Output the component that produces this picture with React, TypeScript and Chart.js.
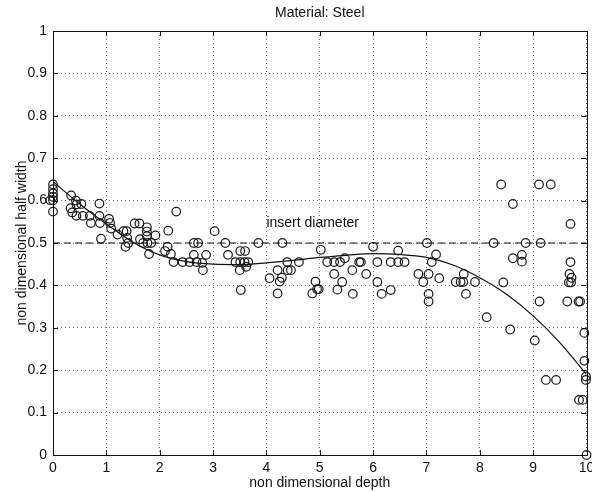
import React, { useEffect, useRef } from 'react';
import { Chart, registerables } from 'chart.js';

Chart.register(...registerables);

const chartTitle = 'Material: Steel';
const xAxisTitle = 'non dimensional depth';
const yAxisTitle = 'non dimensional half width';
const referenceLabel = 'insert diameter';

const xTickValues = [0, 1, 2, 3, 4, 5, 6, 7, 8, 9, 10];
const yTickValues = [0, 0.1, 0.2, 0.3, 0.4, 0.5, 0.6, 0.7, 0.8, 0.9, 1];

// polynomial fit curve
const fitX = [0, 0.5, 1, 1.5, 2, 2.5, 3, 3.5, 4, 4.5, 5, 5.5, 6, 6.5, 7, 7.5, 8, 8.5, 9, 9.5, 10];
const fitY = [0.645, 0.592, 0.545, 0.502, 0.472, 0.456, 0.45, 0.449, 0.453, 0.459, 0.466, 0.471, 0.475, 0.473, 0.466, 0.448, 0.418, 0.379, 0.328, 0.265, 0.19];

// insert diameter reference line
const refX = [0, 10];
const refY = [0.5, 0.5];
const refLabelPos = [4.0, 0.537];

// measured points [depth, half width]
const measured: [number, number][] = [
  [-0.05, 0.601], [0, 0.638], [0, 0.627], [0, 0.617], [0, 0.609], [0, 0.601], [0, 0.574],
  [0.34, 0.612], [0.43, 0.6], [0.44, 0.591], [0.53, 0.592], [0.33, 0.582], [0.36, 0.572],
  [0.44, 0.564], [0.56, 0.564], [0.69, 0.564], [0.71, 0.547], [0.87, 0.593], [0.87, 0.564],
  [0.88, 0.547], [0.9, 0.51], [1.05, 0.557], [1.07, 0.547], [1.09, 0.534], [1.21, 0.52],
  [1.32, 0.528], [1.38, 0.528], [1.36, 0.491], [1.39, 0.512], [1.41, 0.5], [1.53, 0.546],
  [1.62, 0.546], [1.63, 0.509], [1.76, 0.537], [1.76, 0.527], [1.76, 0.516], [1.69, 0.5],
  [1.77, 0.5], [1.84, 0.5], [1.92, 0.518], [1.8, 0.474], [2.16, 0.529], [2.15, 0.491],
  [2.1, 0.481], [2.21, 0.474], [2.26, 0.455], [2.31, 0.574], [2.43, 0.455], [2.56, 0.455],
  [2.64, 0.472], [2.64, 0.5], [2.72, 0.5], [2.69, 0.455], [2.8, 0.453], [2.81, 0.436],
  [2.87, 0.472], [3.03, 0.528], [3.23, 0.5], [3.28, 0.472], [3.42, 0.455], [3.51, 0.481],
  [3.6, 0.481], [3.51, 0.455], [3.59, 0.455], [3.66, 0.455], [3.5, 0.436], [3.62, 0.444],
  [3.52, 0.389], [3.85, 0.5], [4.06, 0.417], [4.21, 0.436], [4.21, 0.381], [4.25, 0.409],
  [4.29, 0.418], [4.3, 0.5], [4.39, 0.455], [4.4, 0.436], [4.46, 0.436], [4.61, 0.455],
  [4.86, 0.381], [4.92, 0.409], [4.95, 0.391], [4.98, 0.391], [5.02, 0.484], [5.14, 0.455],
  [5.27, 0.455], [5.38, 0.455], [5.47, 0.464], [5.27, 0.427], [5.42, 0.408], [5.33, 0.39],
  [5.61, 0.436], [5.62, 0.38], [5.74, 0.455], [5.77, 0.455], [5.87, 0.427], [6.0, 0.491],
  [6.08, 0.455], [6.08, 0.408], [6.16, 0.38], [6.33, 0.455], [6.47, 0.455], [6.59, 0.455],
  [6.33, 0.389], [6.47, 0.482], [6.85, 0.427], [6.94, 0.408], [7.01, 0.5], [7.04, 0.427],
  [7.04, 0.38], [7.04, 0.362], [7.1, 0.455], [7.18, 0.473], [7.24, 0.417], [7.55, 0.408],
  [7.64, 0.408], [7.69, 0.408], [7.7, 0.427], [7.74, 0.38], [7.91, 0.408], [8.13, 0.325],
  [8.26, 0.5], [8.44, 0.407], [8.4, 0.638], [8.62, 0.592], [8.57, 0.296], [8.62, 0.464],
  [8.79, 0.472], [8.79, 0.456], [8.86, 0.5], [9.03, 0.27], [9.12, 0.362], [9.11, 0.638],
  [9.33, 0.638], [9.14, 0.5], [9.24, 0.177], [9.43, 0.177], [9.64, 0.362], [9.68, 0.427],
  [9.72, 0.418], [9.67, 0.407], [9.71, 0.407], [9.7, 0.455], [9.7, 0.545], [9.85, 0.362],
  [9.88, 0.362], [9.86, 0.13], [9.93, 0.13], [9.96, 0.288], [9.96, 0.222], [9.99, 0.185],
  [9.99, 0.177], [10, 0],
];

const FONT = '"Liberation Sans", Arial, Helvetica, sans-serif';
const INK = '#111';

const framePlugin = {
  id: 'matlabFrame',
  afterDraw(chart: any) {
    const { ctx, chartArea } = chart;
    const { left, right, top, bottom } = chartArea;
    const xs = chart.scales.x;
    const ys = chart.scales.y;
    const tl = 5;
    ctx.save();
    ctx.strokeStyle = INK;
    ctx.lineWidth = 1;
    ctx.setLineDash([]);
    ctx.strokeRect(Math.round(left) + 0.5, Math.round(top) + 0.5, Math.round(right - left), Math.round(bottom - top));
    ctx.beginPath();
    xTickValues.forEach((v) => {
      const p = Math.round(xs.getPixelForValue(v)) + 0.5;
      ctx.moveTo(p, bottom);
      ctx.lineTo(p, bottom - tl);
      ctx.moveTo(p, top);
      ctx.lineTo(p, top + tl);
    });
    yTickValues.forEach((v) => {
      const p = Math.round(ys.getPixelForValue(v)) + 0.5;
      ctx.moveTo(left, p);
      ctx.lineTo(left + tl, p);
      ctx.moveTo(right, p);
      ctx.lineTo(right - tl, p);
    });
    ctx.stroke();
    ctx.fillStyle = INK;
    ctx.font = `14px ${FONT}`;
    ctx.textAlign = 'left';
    ctx.textBaseline = 'alphabetic';
    ctx.fillText(referenceLabel, xs.getPixelForValue(refLabelPos[0]), ys.getPixelForValue(refLabelPos[1]));
    ctx.restore();
  },
};

const fmt = (v: number) => String(Number(Number(v).toFixed(1)));

export default function App() {
  const ref = useRef<HTMLCanvasElement | null>(null);
  useEffect(() => {
    if (!ref.current) return;
    Chart.defaults.font.family = FONT;
    Chart.defaults.font.size = 14;
    Chart.defaults.color = INK;
    const chart = new Chart(ref.current, {
      type: 'scatter',
      data: {
        datasets: [
          {
            label: 'measured',
            data: measured.map(([x, y]) => ({ x, y })),
            pointRadius: 4.3,
            pointBorderWidth: 1.2,
            pointBorderColor: '#1a1a1a',
            pointBackgroundColor: 'rgba(0,0,0,0)',
            showLine: false,
            clip: false as any,
          },
          {
            label: 'fit',
            data: fitX.map((x, i) => ({ x, y: fitY[i] })),
            showLine: true,
            borderColor: INK,
            borderWidth: 1.2,
            pointRadius: 0,
            cubicInterpolationMode: 'monotone',
          },
          {
            label: 'insert diameter',
            data: refX.map((x, i) => ({ x, y: refY[i] })),
            showLine: true,
            borderColor: INK,
            borderWidth: 1.2,
            borderDash: [7, 4],
            pointRadius: 0,
          },
        ],
      },
      options: {
        responsive: false,
        animation: false,
        layout: { padding: { left: 0, right: 2, top: 0, bottom: 0 } },
        plugins: {
          legend: { display: false },
          tooltip: { enabled: false },
          title: {
            display: true,
            text: chartTitle,
            fullSize: false,
            color: INK,
            font: { size: 14, weight: 'normal', family: FONT },
            padding: { top: 5, bottom: 9.2 },
          },
        },
        scales: {
          x: {
            type: 'linear',
            min: 0,
            max: 10,
            afterBuildTicks: (s: any) => { s.ticks = xTickValues.map((v) => ({ value: v })); },
            afterFit: (s: any) => { s.height = 37; s.paddingLeft = 0; s.paddingRight = 0; },
            ticks: { padding: 5, autoSkip: false, maxRotation: 0, color: INK, font: { size: 14 }, callback: (v: any) => fmt(v) },
            grid: { color: 'rgba(0,0,0,0.55)', lineWidth: 1, drawTicks: false },
            border: { display: false, dash: [1, 3] },
            title: { display: true, text: xAxisTitle, color: INK, font: { size: 14 }, padding: { top: 0, bottom: 0 } },
          },
          y: {
            type: 'linear',
            min: 0,
            max: 1,
            afterBuildTicks: (s: any) => { s.ticks = yTickValues.map((v) => ({ value: v })); },
            afterFit: (s: any) => { s.width = 53; s.paddingTop = 0; s.paddingBottom = 0; },
            ticks: { padding: 6, autoSkip: false, color: INK, font: { size: 14 }, callback: (v: any) => fmt(v) },
            grid: { color: 'rgba(0,0,0,0.55)', lineWidth: 1, drawTicks: false },
            border: { display: false, dash: [1, 3] },
            title: { display: true, text: yAxisTitle, color: INK, font: { size: 14 }, padding: { top: 13.6, bottom: 0 } },
          },
        },
      } as any,
      plugins: [framePlugin],
    });
    return () => chart.destroy();
  }, []);
  return (
    <div style={{ position: 'fixed', left: 0, top: 0, width: 592, height: 492, background: '#fff' }}>
      <canvas ref={ref} width={592} height={492} style={{ display: 'block' }} />
    </div>
  );
}
